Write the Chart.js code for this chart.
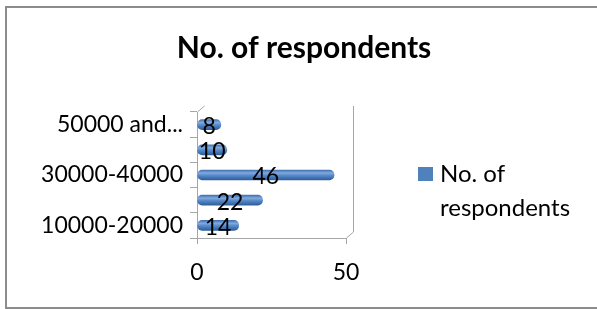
<!DOCTYPE html>
<html>
<head>
<meta charset="utf-8">
<title>No. of respondents</title>
<script src="https://cdn.jsdelivr.net/npm/chart.js@4.4.1/dist/chart.umd.min.js"></script>
<style>
  body { margin: 0; background: #fff; }
  #wrap { position: relative; width: 597px; height: 309px; overflow: hidden; }
  #frame { position: absolute; left: 5px; top: 6px; width: 610px; height: 303px;
           border: 2px solid #8c8c8c; box-sizing: border-box; pointer-events: none; }
  #legend { position: absolute; left: 418px; top: 156px; width: 155px;
            font: 24px Lato, sans-serif; line-height: 34px; color: #000; }
  #legend .box { position: absolute; left: 0; top: 11px; width: 15px; height: 14px; background: #4f81bd; }
  #legend .txt { margin-left: 22px; }
</style>
</head>
<body>
<div id="wrap">
  <canvas id="myChart" width="597" height="309"></canvas>
  <div id="frame"></div>
  <div id="legend"><span class="box"></span><div class="txt"></div></div>
</div>
<script>
const categories = [
    "10000-20000",
    "20000-30000",
    "30000-40000",
    "40000-50000",
    "50000 and above",
];
const respondents = [14, 22, 46, 10, 8];
const seriesName = "No. of respondents";
const xTicks = [0, 50];

const grey = '#a6a6a6';
const font = { family: 'Lato', size: 23 };

// cylinder-ish shading for each bar
function barFill(c) {
    const chart = c.chart;
    if (c.type !== 'data' || !chart.chartArea) return '#4f81bd';
    const y = chart.scales.y.getPixelForValue(c.dataIndex);
    const g = chart.ctx.createLinearGradient(0, y - 5, 0, y + 5);
    g.addColorStop(0, '#4272b2');
    g.addColorStop(0.3, '#82a9de');
    g.addColorStop(0.55, '#5589c9');
    g.addColorStop(1, '#2f5d99');
    return g;
}

// back wall / floor edges of the 3D plot box
const frame3d = {
    id: 'frame3d',
    beforeDatasetsDraw(chart) {
        const {ctx, chartArea: a} = chart;
        const dx = 7, dy = -6;
        ctx.save();
        ctx.strokeStyle = grey;
        ctx.lineWidth = 1;
        ctx.beginPath();
        ctx.moveTo(a.left + 0.5, a.top);
        ctx.lineTo(a.left + dx + 0.5, a.top + dy);
        ctx.moveTo(a.right + 0.5, a.bottom);
        ctx.lineTo(a.right + dx + 0.5, a.bottom + dy);
        ctx.lineTo(a.right + dx + 0.5, a.top + dy);
        ctx.stroke();
        ctx.restore();
    }
};

// value labels in the middle of each bar
const barLabels = {
    id: 'barLabels',
    afterDatasetsDraw(chart) {
        const ctx = chart.ctx;
        ctx.save();
        ctx.font = '23px Lato';
        ctx.fillStyle = '#000';
        ctx.textAlign = 'center';
        ctx.textBaseline = 'middle';
        chart.getDatasetMeta(0).data.forEach((bar, i) => {
            ctx.fillText(String(respondents[i]), (bar.x + bar.base) / 2, bar.y + 2);
        });
        ctx.restore();
    }
};

const data = {
    labels: categories,
    datasets: [{
        label: seriesName,
        data: respondents,
        backgroundColor: barFill,
        borderWidth: 0,
        barThickness: 10,
        borderRadius: 5,
        borderSkipped: false,
    }],
};

const config = {
    type: 'bar',
    data: data,
    options: {
        indexAxis: 'y',
        responsive: false,
        animation: false,
        layout: { padding: { left: 11, right: 0, top: 0, bottom: 0 } },
        scales: {
            x: {
                min: xTicks[0],
                max: xTicks[xTicks.length - 1],
                afterBuildTicks(s) { s.ticks = xTicks.map(v => ({ value: v })); },
                grid: { drawOnChartArea: false, tickLength: 6, color: grey },
                border: { color: grey },
                ticks: { font: font, color: '#000', padding: 15, maxRotation: 0 },
                afterFit(s) { s.height = 71; },
            },
            y: {
                reverse: true,
                grid: { drawOnChartArea: false, tickLength: 7, color: grey, offset: true },
                border: { color: grey },
                ticks: {
                    font: font,
                    color: '#000',
                    padding: 7,
                    autoSkip: false,
                    callback(v, i) {
                        if (i % 2) return '';
                        const t = categories[i];
                        return t.length > 11 ? t.slice(0, 9) + '...' : t;
                    },
                },
                afterFit(s) { s.width = 186; },
            },
            // empty space on the right that holds the legend
            yr: {
                type: 'category',
                position: 'right',
                grid: { display: false },
                border: { display: false },
                ticks: { display: false },
                afterFit(s) { s.width = 251; },
            },
        },
        plugins: {
            legend: { display: false },
            tooltip: { enabled: false },
            title: {
                display: true,
                text: seriesName,
                color: '#000',
                font: { family: 'Lato', size: 30, weight: 'bold' },
                padding: { top: 30, bottom: 46 },
            },
        },
    },
    plugins: [frame3d, barLabels],
};

const myChart = new Chart(document.getElementById('myChart').getContext('2d'), config);

document.querySelector('#legend .txt').textContent = myChart.data.datasets[0].label;
</script>
</body>
</html>
